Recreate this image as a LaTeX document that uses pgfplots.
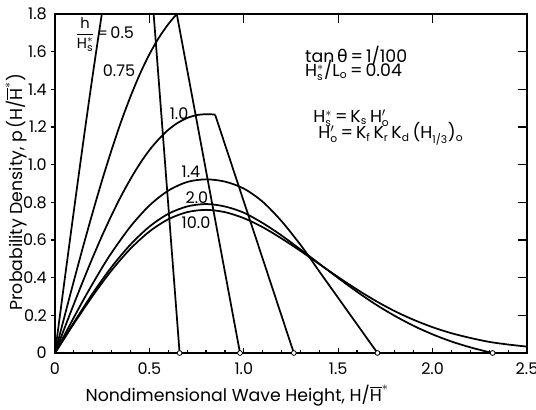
\documentclass[border=0pt]{standalone}
\usepackage{fontspec}
\setmainfont{Poppins}
\newfontfamily\dejavu{DejaVu Sans}
\usepackage{amsmath}
\usepackage{pgfplots}
\pgfplotsset{compat=1.18}
\newcommand{\sscr}[1]{\mbox{\fontsize{8}{9}\selectfont #1}}
\newcommand{\Hb}{$\overline{\mbox{H}}^{*}$}
\begin{document}
\begin{tikzpicture}[font=\fontsize{13}{15}\selectfont]
\path[use as bounding box] (-41.25pt,-42.75pt) rectangle (360.75pt,264.75pt);
% overlay: right and top inward ticks
\begin{axis}[at={(0,0)}, anchor=south west, scale only axis, width=354pt, height=254.25pt,
  xmin=0, xmax=2.5, ymin=0, ymax=1.8,
  axis x line*=top, axis y line*=right, axis line style={line width=1.1pt},
  tick align=inside, major tick length=6.5pt, tick style={line width=1pt, black},
  xtick={0.5,1,1.5,2}, ytick={0.2,0.4,0.6,0.8,1.0,1.2,1.4,1.6},
  xticklabels={,,,}, yticklabels={,,,,,,,}]
\end{axis}
% overlay: left outward ticks
\begin{axis}[at={(0,0)}, anchor=south west, scale only axis, width=354pt, height=254.25pt,
  xmin=0, xmax=2.5, ymin=0, ymax=1.8,
  hide x axis, axis y line*=left, axis line style={line width=1.1pt},
  tick align=outside, major tick length=3pt, tick style={line width=1pt, black},
  ytick={0.2,0.4,0.6,0.8,1.0,1.2,1.4,1.6},
  yticklabels={,,,,,,,}]
\end{axis}
\begin{axis}[at={(0,0)}, anchor=south west, scale only axis, width=354pt, height=254.25pt,
  xmin=0, xmax=2.5, ymin=0, ymax=1.8,
  axis line style={line width=1.1pt},
  xtick={0,0.5,1,1.5,2,2.5}, xticklabels={0,0.5,1.0,1.5,2.0,2.5},
  minor x tick num=4, xtick pos=left,
  tick align=inside, major tick length=4pt, minor tick length=2.4pt,
  tick style={line width=0.9pt, black},
  ytick={0,0.2,0.4,0.6,0.8,1.0,1.2,1.4,1.6,1.8},
  yticklabels={0,0.2,0.4,0.6,0.8,1.0,1.2,1.4,1.6,1.8},
  y tick style={draw=none}, yticklabel pos=left,
  xticklabel style={anchor=base, yshift=-16.5pt, inner sep=0pt, font=\fontsize{12}{14}\selectfont},
  yticklabel style={anchor=east, xshift=-6pt, inner sep=0pt, font=\fontsize{12}{14}\selectfont},
  xlabel={Nondimensional Wave Height, H/\Hb},
  ylabel={Probability Density, p\,(H/\Hb)},
  xlabel style={at={(axis description cs:0.386,-0.1445)}, anchor=base},
  ylabel style={at={(axis description cs:-0.0699,0.475)}, anchor=base},
  every axis plot/.append style={line width=1.3pt, black},
]
% h/Hs = 0.5
\addplot[smooth] coordinates {(0,0) (0.05,0.381) (0.1,0.756) (0.15,1.123) (0.2,1.477) (0.25,1.813) (0.3,2.13) (0.35,2.42) (0.4,2.69) (0.44,2.88)};
\addplot[sharp plot] coordinates {(0.44,2.88) (0.66,0)};
% 0.75
\addplot[smooth] coordinates {(0,0) (0.05,0.193) (0.1,0.383) (0.15,0.569) (0.2,0.748) (0.25,0.919) (0.3,1.079) (0.35,1.228) (0.4,1.362) (0.45,1.482) (0.5,1.586) (0.55,1.674) (0.6,1.746) (0.645,1.80)};
\addplot[sharp plot] coordinates {(0.645,1.80) (0.98,0)};
% 1.0
\addplot[smooth] coordinates {(0,0) (0.05,0.131) (0.1,0.260) (0.15,0.386) (0.2,0.508) (0.25,0.624) (0.3,0.732) (0.35,0.833) (0.4,0.924) (0.45,1.006) (0.5,1.077) (0.55,1.136) (0.6,1.185) (0.65,1.222) (0.7,1.248) (0.75,1.263) (0.8,1.268) (0.848,1.266)};
\addplot[sharp plot] coordinates {(0.848,1.266) (1.265,0)};
% 1.4
\addplot[smooth] coordinates {(0,0) (0.05,0.095) (0.1,0.189) (0.15,0.281) (0.2,0.369) (0.25,0.454) (0.3,0.533) (0.4,0.672) (0.5,0.783) (0.6,0.862) (0.7,0.908) (0.8,0.922) (0.9,0.910) (1.0,0.873) (1.1,0.803) (1.2,0.700) (1.3,0.575) (1.334,0.528) (1.4,0.433)};
\addplot[sharp plot] coordinates {(1.4,0.433) (1.708,0)};
% 2.0
\addplot[smooth] coordinates {(0,0) (0.05,0.082) (0.1,0.162) (0.2,0.317) (0.3,0.457) (0.4,0.576) (0.5,0.671) (0.6,0.739) (0.7,0.778) (0.8,0.791) (0.9,0.778) (1.0,0.745) (1.1,0.690) (1.2,0.624) (1.3,0.550) (1.4,0.474) (1.5,0.398) (1.6,0.325) (1.7,0.257) (1.8,0.197) (1.9,0.144) (2.0,0.099) (2.1,0.061) (2.2,0.030) (2.3,0.004) (2.318,0)};
% 10.0
\addplot[smooth] coordinates {(0,0) (0.05,0.078) (0.1,0.156) (0.2,0.304) (0.3,0.439) (0.4,0.554) (0.5,0.645) (0.6,0.710) (0.7,0.748) (0.8,0.760) (0.9,0.748) (1.0,0.716) (1.1,0.668) (1.2,0.608) (1.3,0.542) (1.4,0.472) (1.5,0.403) (1.6,0.337) (1.7,0.276) (1.8,0.222) (1.9,0.176) (2.0,0.137) (2.1,0.105) (2.2,0.080) (2.3,0.059) (2.4,0.045) (2.5,0.034)};
% end points
\addplot[only marks, mark=*, mark size=1.8pt, line width=0.6pt, mark options={fill=white, draw=black}] coordinates {(0.66,0) (0.98,0) (1.265,0) (1.708,0) (2.318,0)};
% curve labels
\node[font=\fontsize{12}{14}\selectfont] at (axis cs:0.339,1.498) {0.75};
\node[font=\fontsize{12}{14}\selectfont] at (axis cs:0.657,1.272) {1.0};
\node[font=\fontsize{12}{14}\selectfont] at (axis cs:0.72,0.961) {1.4};
\node[font=\fontsize{12}{14}\selectfont] at (axis cs:0.752,0.826) {2.0};
\node[font=\fontsize{12}{14}\selectfont] at (axis cs:0.747,0.693) {10.0};
\node[anchor=west, inner sep=0pt, font=\fontsize{11}{13}\selectfont] at (axis cs:0.106,1.69) {$\dfrac{\mbox{h}}{\mbox{H}^{*}_{\sscr{s}}}$\,=\,{\fontsize{12}{14}\selectfont 0.5}};
% annotations
\node[anchor=base west, inner sep=0pt] at (axis cs:1.324,1.543) {tan\,{\dejavu θ}\,=\,1/100};
\node[anchor=base west, inner sep=0pt] at (axis cs:1.324,1.470) {H$^{*}_{\sscr{s}}$/L$_{\sscr{o}}$\,=\,0.04};
\node[anchor=base west, inner sep=0pt] at (axis cs:1.367,1.225) {H$^{*}_{\sscr{s}}$\,=\,K$_{\sscr{s}}$\,H$'_{\sscr{o}}$};
\node[anchor=base west, inner sep=0pt] at (axis cs:1.393,1.138) {H$'_{\sscr{o}}$\,=\,K$_{\sscr{f}}$\,K$_{\sscr{r}}$\,K$_{\sscr{d}}$\,(H$_{\sscr{1/3}}$)$_{\sscr{o}}$};
\end{axis}
\end{tikzpicture}
\end{document}
